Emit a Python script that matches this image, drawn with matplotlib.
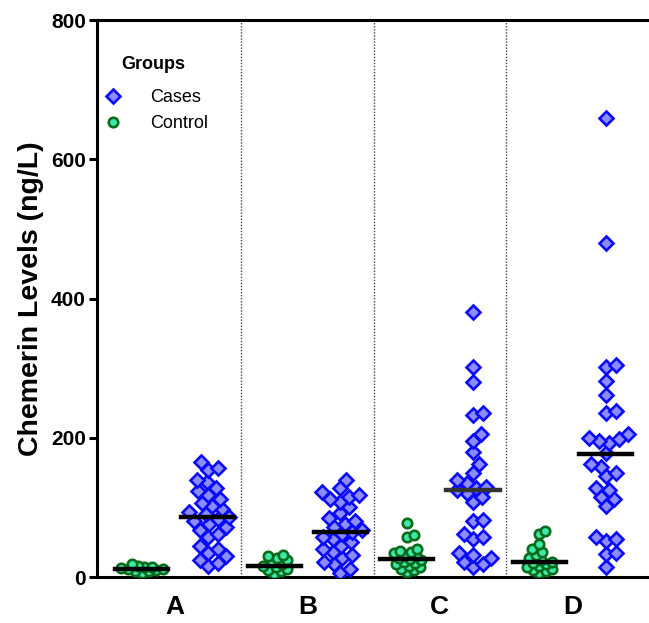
import numpy as np
import matplotlib
matplotlib.use("Agg")
import matplotlib.pyplot as plt
from matplotlib.lines import Line2D

plt.rcParams["font.family"] = ["Liberation Sans", "DejaVu Sans"]

categories = ["A", "B", "C", "D"]

control_values = [
    [18, 16, 15, 14, 13, 12, 11, 10, 9, 8, 6],
    [32, 30, 28, 24, 22, 18, 16, 14, 12, 10, 8, 5],
    [78, 60, 58, 40, 38, 36, 34, 32, 30, 28, 26, 24, 22, 20, 18, 16, 14, 12, 10, 7],
    [66, 62, 48, 40, 36, 32, 28, 25, 22, 20, 18, 16, 14, 12, 10, 8, 6],
]
cases_values = [
    [165, 157, 154, 140, 136, 128, 124, 118, 112, 106, 102, 97, 93, 90, 86,
     84, 80, 76, 72, 68, 62, 58, 44, 40, 35, 30, 25, 20, 16],
    [140, 128, 122, 118, 115, 112, 108, 100, 92, 85, 80, 76, 72, 68, 65,
     62, 58, 54, 50, 45, 40, 36, 32, 28, 22, 18, 12, 6],
    [381, 302, 280, 235, 233, 205, 195, 180, 162, 150, 140, 135, 130, 128, 125,
     120, 115, 108, 82, 80, 62, 58, 55, 35, 32, 28, 22, 18, 14],
    [660, 480, 304, 302, 282, 262, 238, 235, 205, 200, 198, 195, 192, 178, 162,
     158, 150, 145, 128, 125, 115, 112, 102, 58, 55, 52, 35, 33, 14],
]
control_lines = [12, 16, 26, 21]
cases_lines = [86, 65, 125, 177]

fig = plt.figure(figsize=(6.49, 6.23), dpi=100)
ax = fig.add_axes([0.1495, 0.0738, 0.851, 0.894])
ax.set_xlim(-0.586, 3.58)
ax.set_ylim(0, 800)

# pixel scale of the data axes, used to lay out the swarm
bbox = ax.get_window_extent()
px_x = bbox.width / (3.58 + 0.586)
px_y = bbox.height / 800.0


def swarm(values, diam, max_px):
    placed = []
    offsets = []
    cands = [0.0]
    for k in range(1, int(max_px) + 1):
        cands += [float(k), -float(k)]
    for v in values:
        y = v * px_y
        best, best_d = 0.0, -1.0
        for cand in cands:
            d = min([np.hypot(cand - px, y - py) for px, py in placed] or [1e9])
            if d >= diam:
                best = cand
                break
            if d > best_d:
                best, best_d = cand, d
        placed.append((best, y))
        offsets.append(best / px_x)
    return np.array(offsets)


for i, cat in enumerate(categories):
    cx = i - 0.25
    vals = sorted(control_values[i])
    ox = swarm(vals, 6.5, 24)
    ax.plot(cx + ox, vals, "o", ms=6.8, mew=1.9,
            mfc="#3ee8a8", mec="#0b6b1b", ls="none", zorder=3)
    ax.plot([cx - 0.2, cx + 0.2], [control_lines[i]] * 2, color="black", lw=3.2, zorder=4)

    kx = i + 0.25
    vals = sorted(cases_values[i])
    ox = swarm(vals, 10, 25)
    ax.plot(kx + ox, vals, "D", ms=6.7, mew=1.9,
            mfc="#8c8cff", mec="#0a0aff", ls="none", zorder=3)
    line_color = "#333333" if cat == "C" else "black"
    ax.plot([kx - 0.2, kx + 0.2], [cases_lines[i]] * 2, color=line_color, lw=3.2, zorder=4)

for sep in [0.5, 1.5, 2.5]:
    ax.axvline(sep, color="#444444", lw=1.0, ls=(0, (1, 1.2)), zorder=1)

for side in ["left", "bottom", "top"]:
    ax.spines[side].set_linewidth(2.2)
ax.spines["right"].set_visible(False)

ax.set_yticks([0, 200, 400, 600, 800])
ax.set_xticks(range(len(categories)))
ax.set_xticklabels(categories)
ax.tick_params(axis="y", length=6, width=2.2, labelsize=15, pad=2)
ax.tick_params(axis="x", length=0, labelsize=19, pad=13)
for lab in ax.get_xticklabels() + ax.get_yticklabels():
    lab.set_fontweight("bold")

ax.set_ylabel("Chemerin Levels (ng/L)", fontsize=20.5, fontweight="bold", labelpad=5)

handles = [
    Line2D([], [], marker="D", ls="none", ms=6.7, mew=1.9, mfc="#8c8cff", mec="#0a0aff"),
    Line2D([], [], marker="o", ls="none", ms=6.8, mew=1.9, mfc="#3ee8a8", mec="#0b6b1b"),
]
ax.text(0.043, 0.92, "Groups", transform=ax.transAxes, fontsize=13,
        fontweight="bold", va="center", ha="left")
ax.legend(handles, ["Cases", "Control"], loc="upper left",
          bbox_to_anchor=(-0.017, 0.905), frameon=False, fontsize=13,
          handlelength=1.0, handletextpad=1.55, labelspacing=0.5)

fig.savefig("out.png", dpi=100)
